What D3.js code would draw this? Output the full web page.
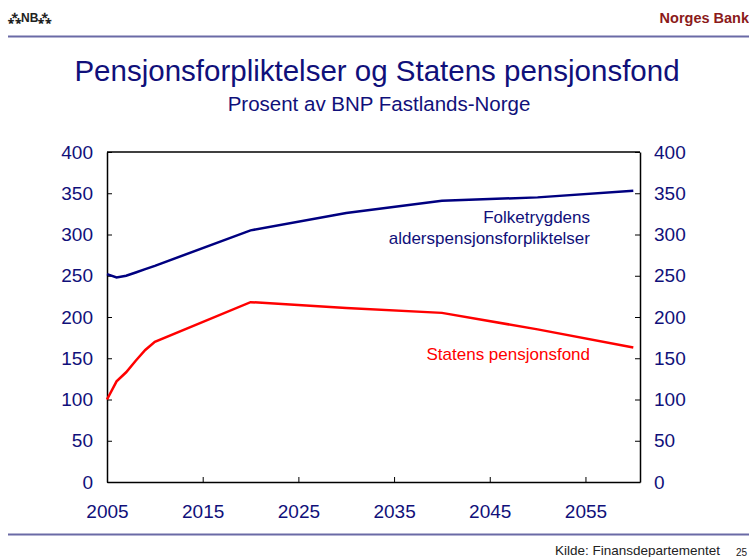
<!DOCTYPE html>
<html>
<head>
<meta charset="utf-8">
<script src="https://cdn.jsdelivr.net/npm/d3@7"></script>
<style>
  body { margin: 0; background: #fff; }
  svg text { font-family: "Liberation Sans", Arial, sans-serif; }
</style>
</head>
<body>
<svg id="chart" width="749" height="557"></svg>
<script>
// data
const years = [2005, 2006, 2007, 2008, 2009, 2010, 2020, 2030, 2040, 2050, 2060];
const folketrygd = [252, 248, 250, 254, 258, 262, 305, 326, 341, 345, 353];
const pensjonsfond = [100, 122, 133, 147, 160, 170, 218, 211, 205, 185, 163];
const xTicks = [2005, 2015, 2025, 2035, 2045, 2055];
const yTicks = [0, 50, 100, 150, 200, 250, 300, 350, 400];

const navy = "#000080";
const textNavy = "#10107a";

const svg = d3.select("#chart");

// header / footer
svg.append("text").attr("x", 8).attr("y", 22)
    .style("font-size", "12px").style("font-weight", "bold").attr("fill", "#222")
    .text("\u2042NB\u2042");
svg.append("text").attr("x", 749).attr("y", 23).attr("text-anchor", "end")
    .style("font-size", "14.5px").style("font-weight", "bold").attr("fill", "#8b1a1a")
    .text("Norges Bank");
svg.append("line").attr("x1", 8).attr("x2", 749).attr("y1", 36.5).attr("y2", 36.5)
    .attr("stroke", "#6a6aa6").attr("stroke-width", 2);
svg.append("line").attr("x1", 8).attr("x2", 749).attr("y1", 534.5).attr("y2", 534.5)
    .attr("stroke", "#6a6aa6").attr("stroke-width", 2);
svg.append("text").attr("x", 720).attr("y", 555).attr("text-anchor", "end")
    .style("font-size", "13.5px").attr("fill", "#222").text("Kilde: Finansdepartementet");
svg.append("text").attr("x", 736).attr("y", 556)
    .style("font-size", "10px").attr("fill", "#222").text("25");

// titles
svg.append("text").attr("x", 377).attr("y", 81).attr("text-anchor", "middle")
    .style("font-size", "29.5px").attr("fill", textNavy)
    .text("Pensjonsforpliktelser og Statens pensjonsfond");
svg.append("text").attr("x", 379).attr("y", 111).attr("text-anchor", "middle")
    .style("font-size", "20.5px").attr("fill", textNavy)
    .text("Prosent av BNP Fastlands-Norge");

const margin = { top: 152, right: 109, bottom: 75, left: 107 };
const width = 749 - margin.left - margin.right;
const height = 557 - margin.top - margin.bottom;

const g = svg.append("g").attr("transform", `translate(${margin.left},${margin.top})`);

const x = d3.scaleLinear().domain([2005, 2060.7]).range([0, width]);
const y = d3.scaleLinear().domain([0, 400]).range([height, 0]);

// axes
const xAxis = g.append("g").attr("transform", `translate(0,${height})`)
    .call(d3.axisBottom(x).tickValues(xTicks).tickFormat(d3.format("d")).tickSizeInner(-5).tickSizeOuter(0).tickPadding(23));
const yLeft = g.append("g")
    .call(d3.axisLeft(y).tickValues(yTicks).tickSizeInner(-5).tickSizeOuter(0).tickPadding(14));
const yRight = g.append("g").attr("transform", `translate(${width},0)`)
    .call(d3.axisRight(y).tickValues(yTicks).tickSizeInner(-5).tickSizeOuter(0).tickPadding(14));

[xAxis, yLeft, yRight].forEach(a => {
    a.select(".domain").attr("stroke", "#000").attr("stroke-width", 1.5);
    a.selectAll(".tick line").attr("stroke", "#000");
    a.selectAll(".tick text").style("font-size", "19px").attr("fill", textNavy);
});
xAxis.selectAll(".tick text").attr("dy", "0.71em");

// top border
g.append("line").attr("x1", 0).attr("x2", width).attr("y1", 0).attr("y2", 0)
    .attr("stroke", "#000").attr("stroke-width", 1.5);

const line = d3.line()
    .x((d, i) => x(years[i]))
    .y(d => y(d));

g.append("path").datum(folketrygd)
    .attr("fill", "none").attr("stroke", navy).attr("stroke-width", 2.5)
    .attr("d", line);
g.append("path").datum(pensjonsfond)
    .attr("fill", "none").attr("stroke", "#ff0000").attr("stroke-width", 2.5)
    .attr("d", line);

// labels
g.append("text").attr("x", 483).attr("y", 71).attr("text-anchor", "end")
    .style("font-size", "17px").attr("fill", textNavy).text("Folketrygdens");
g.append("text").attr("x", 483).attr("y", 92).attr("text-anchor", "end")
    .style("font-size", "17px").attr("fill", textNavy).text("alderspensjonsforpliktelser");
g.append("text").attr("x", 483).attr("y", 208).attr("text-anchor", "end")
    .style("font-size", "17px").attr("fill", "#ff0000").text("Statens pensjonsfond");
</script>
</body>
</html>
